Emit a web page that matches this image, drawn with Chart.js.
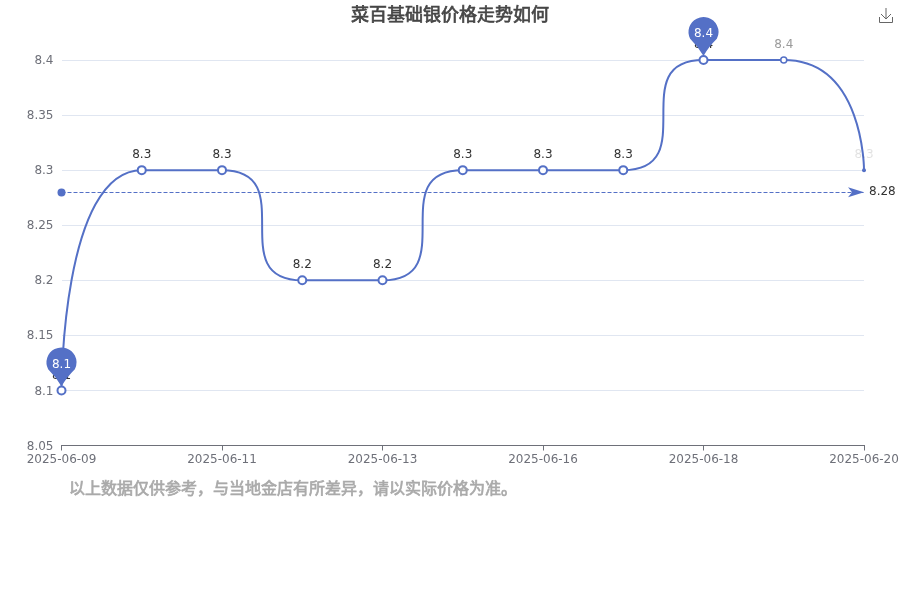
<!DOCTYPE html>
<html>
<head>
<meta charset="utf-8">
<style>body { margin: 0; background: #fff; }</style>
<script src="https://cdn.jsdelivr.net/npm/chart.js@4/dist/chart.umd.min.js"></script>
</head>
<body>
<canvas id="silver" width="900" height="600"></canvas>
<script>
const titleText = '菜百基础银价格走势如何';
const noteText = '以上数据仅供参考，与当地金店有所差异，请以实际价格为准。';
const dates = ['2025-06-09', '2025-06-10', '2025-06-11', '2025-06-12', '2025-06-13', '2025-06-14',
  '2025-06-16', '2025-06-17', '2025-06-18', '2025-06-19', '2025-06-20'];
const prices = [8.1, 8.3, 8.3, 8.2, 8.2, 8.3, 8.3, 8.3, 8.4, 8.4, 8.3];
const meanPrices = [8.28, 8.28, 8.28, 8.28, 8.28, 8.28, 8.28, 8.28, 8.28, 8.28, 8.28];
const pinIndexes = [0, 8];
const yMin = 8.05;
const yMax = 8.4;
const yStep = 0.05;

const blue = '#5470c6';
const font = '"DejaVu Sans", "Noto Sans CJK SC", sans-serif';
// last labels were caught fading in
const labelAlpha = [1, 1, 1, 1, 1, 1, 1, 1, 1, 0.5, 0.15];

// same control points echarts uses for smooth:true
const smoothLine = {
  id: 'smoothLine',
  beforeDatasetDraw(chart, args) {
    if (args.index === 1) {
      // keep the dashed line crisp on one pixel row
      args.meta.data.forEach(p => { p.y = Math.floor(p.y) + 0.5; });
      return;
    }
    const line = args.meta.dataset;
    const pts = args.meta.data;
    line.updateControlPoints(chart.chartArea);
    pts.forEach((p, i) => {
      const prev = pts[i - 1], next = pts[i + 1];
      if (!prev || !next) {
        p.cp1x = p.cp2x = p.x;
        p.cp1y = p.cp2y = p.y;
        return;
      }
      const lenPrev = Math.hypot(p.x - prev.x, p.y - prev.y);
      const lenNext = Math.hypot(next.x - p.x, next.y - p.y);
      const ratio = lenNext / (lenNext + lenPrev);
      const clamp = (v, a, b) => Math.max(Math.min(v, Math.max(a, b)), Math.min(a, b));
      let nx = clamp(p.x + (next.x - prev.x) * ratio, p.x, next.x);
      let ny = clamp(p.y + (next.y - prev.y) * ratio, p.y, next.y);
      const ix = clamp(p.x - (nx - p.x) * lenPrev / lenNext, prev.x, p.x);
      const iy = clamp(p.y - (ny - p.y) * lenPrev / lenNext, prev.y, p.y);
      nx = p.x + (p.x - ix) * lenNext / lenPrev;
      ny = p.y + (p.y - iy) * lenNext / lenPrev;
      p.cp1x = ix; p.cp1y = iy;
      p.cp2x = nx; p.cp2y = ny;
    });
    line._pointsUpdated = true;
  }
};

function drawPin(ctx, x, y, text) {
  const cy = y - 28, r = 15, tip = y - 4;
  ctx.beginPath();
  ctx.arc(x, cy, r, Math.PI * 0.85, Math.PI * 0.15);
  ctx.quadraticCurveTo(x + 5, cy + 15, x, tip);
  ctx.quadraticCurveTo(x - 5, cy + 15, x - r * 0.89, cy + r * 0.45);
  ctx.closePath();
  ctx.fillStyle = blue;
  ctx.fill();
  ctx.fillStyle = '#fff';
  ctx.font = '12px ' + font;
  ctx.textAlign = 'center';
  ctx.textBaseline = 'middle';
  ctx.fillText(text, x, cy + 2);
}

// regular glyphs with a thin outline, the reference has a fake bold
function boldText(ctx, text, x, y, size, color) {
  ctx.font = size + 'px ' + font;
  ctx.fillStyle = color;
  ctx.strokeStyle = color;
  ctx.lineWidth = 0.7;
  ctx.fillText(text, x, y);
  ctx.strokeText(text, x, y);
}

const marks = {
  id: 'marks',
  afterDatasetsDraw(chart) {
    const ctx = chart.ctx;
    const x = chart.scales.x, y = chart.scales.y;
    ctx.save();

    // value labels
    ctx.font = '12px ' + font;
    ctx.textAlign = 'center';
    ctx.textBaseline = 'bottom';
    prices.forEach((v, i) => {
      ctx.fillStyle = `rgba(51, 51, 51, ${labelAlpha[i]})`;
      ctx.fillText(String(v), x.getPixelForValue(i), y.getPixelForValue(v) - 9);
    });

    // mean line arrow and label
    const mx = x.getPixelForValue(dates.length - 1), my = y.getPixelForValue(meanPrices[0]);
    ctx.beginPath();
    ctx.moveTo(mx, my);
    ctx.lineTo(mx - 16, my - 5);
    ctx.lineTo(mx - 12, my);
    ctx.lineTo(mx - 16, my + 5);
    ctx.closePath();
    ctx.fillStyle = blue;
    ctx.fill();
    ctx.fillStyle = '#333';
    ctx.textAlign = 'left';
    ctx.textBaseline = 'middle';
    ctx.fillText(String(meanPrices[0]), mx + 5, my);

    pinIndexes.forEach(i => drawPin(ctx, x.getPixelForValue(i), y.getPixelForValue(prices[i]), String(prices[i])));

    ctx.textBaseline = 'middle';
    ctx.textAlign = 'center';
    boldText(ctx, titleText, 450, 16, 18, '#464646');
    ctx.textAlign = 'left';
    boldText(ctx, noteText, 69, 490, 16, '#aaa');

    // download icon
    ctx.strokeStyle = '#666';
    ctx.lineWidth = 1;
    ctx.beginPath();
    ctx.moveTo(879.5, 17); ctx.lineTo(879.5, 22.5); ctx.lineTo(892.5, 22.5); ctx.lineTo(892.5, 17);
    ctx.moveTo(886, 8); ctx.lineTo(886, 19);
    ctx.moveTo(881, 14); ctx.lineTo(886, 19); ctx.lineTo(891, 14);
    ctx.stroke();
    ctx.restore();
  }
};

new Chart(document.getElementById('silver'), {
  type: 'line',
  data: {
    labels: dates,
    datasets: [
      {
        data: prices,
        borderColor: blue,
        borderWidth: 2,
        tension: 0.4,
        clip: false,
        backgroundColor: '#fff',
        pointBackgroundColor: ctx => ctx.dataIndex === 10 ? blue : '#fff',
        pointBorderColor: blue,
        pointBorderWidth: ctx => ctx.dataIndex === 10 ? 0 : ctx.dataIndex === 9 ? 1.5 : 2,
        pointRadius: ctx => ctx.dataIndex === 10 ? 2 : ctx.dataIndex === 9 ? 3 : 4
      },
      {
        data: meanPrices,
        borderColor: blue,
        borderWidth: 1,
        borderDash: [4, 2],
        clip: false,
        pointBackgroundColor: blue,
        pointBorderWidth: 0,
        pointRadius: ctx => ctx.dataIndex === 0 ? 4 : 0
      }
    ]
  },
  options: {
    responsive: false,
    animation: false,
    devicePixelRatio: 1,
    layout: { padding: { left: 0, right: 36, top: 60, bottom: 124.5 } },
    plugins: {
      legend: { display: false },
      tooltip: { enabled: false }
    },
    scales: {
      x: {
        afterFit: s => { s.height = 30; s.paddingLeft = 0; s.paddingRight = 0; },
        grid: {
          drawOnChartArea: false,
          tickLength: 5,
          tickColor: ctx => ctx.index % 2 ? 'transparent' : '#6e7079'
        },
        border: { color: '#6e7079' },
        ticks: {
          autoSkip: false,
          maxRotation: 0,
          padding: 2,
          color: '#6e7079',
          font: { family: font, size: 12 },
          callback: (v, i) => i % 2 ? '' : dates[i]
        }
      },
      y: {
        min: yMin,
        max: yMax,
        afterFit: s => { s.width = 61.5; },
        grid: { color: '#e0e6f1', drawTicks: false },
        border: { display: false },
        ticks: {
          stepSize: yStep,
          padding: 8,
          labelOffset: 1,
          color: '#6e7079',
          font: { family: font, size: 12 },
          callback: v => String(+v.toFixed(2))
        }
      }
    }
  },
  plugins: [smoothLine, marks]
});
</script>
</body>
</html>
